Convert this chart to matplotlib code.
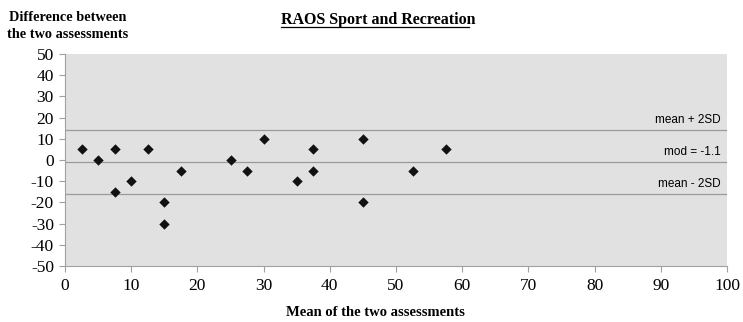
import matplotlib
matplotlib.use("Agg")
import matplotlib.pyplot as plt

plt.rcParams["axes.unicode_minus"] = False

x_mean = [2.5, 5, 7.5, 7.5, 10, 12.5, 15, 15, 17.5, 25, 27.5, 30, 35, 37.5, 37.5, 45, 45, 52.5, 57.5]
y_diff = [5, 0, 5, -15, -10, 5, -20, -30, -5, 0, -5, 10, -10, 5, -5, 10, -20, -5, 5]
mod_value = -1.1
upper_limit = 14.0
lower_limit = -16.2
line_labels = ["mean + 2SD", "mod = -1.1", "mean - 2SD"]
x_ticks = list(range(0, 101, 10))
y_ticks = list(range(-50, 51, 10))

serif = ["Liberation Serif", "DejaVu Serif"]
sans = ["Liberation Sans", "DejaVu Sans"]

fig = plt.figure(figsize=(7.43, 3.22), dpi=100)
ax = fig.add_axes([65/743, 1-266/322, (727-65)/743, (266-54)/322])
ax.set_facecolor("#e1e1e1")
ax.set_xlim(0, 100)
ax.set_ylim(-50, 50)
ax.set_xticks(x_ticks)
ax.set_yticks(y_ticks)
for s in ["top", "right"]:
    ax.spines[s].set_visible(False)
for s in ["left", "bottom"]:
    ax.spines[s].set_color("#a0a0a0")
    ax.spines[s].set_linewidth(0.8)
ax.tick_params(colors="#a0a0a0", length=4, width=0.8, labelcolor="black")
for lab in ax.get_xticklabels() + ax.get_yticklabels():
    lab.set_fontfamily(serif)
    lab.set_fontsize(12.5)
ax.tick_params(axis="x", pad=5)
ax.tick_params(axis="y", pad=4)

for yv in [upper_limit, mod_value, lower_limit]:
    ax.axhline(yv, color="#9a9a9a", linewidth=0.9, zorder=1)

for yv, txt in zip([upper_limit, mod_value, lower_limit], line_labels):
    ax.annotate(txt, xy=(99, yv), xytext=(0, 3), textcoords="offset points",
                ha="right", va="bottom", fontsize=8.5, family=sans, color="black")

ax.scatter(x_mean, y_diff, marker="D", s=28, color="#111111", zorder=3, linewidths=0)

t = fig.text(378/743, 1-20/322, "RAOS Sport and Recreation", ha="center", va="center",
             fontsize=11.5, fontweight="bold", family=serif)
fig.canvas.draw()
bb = t.get_window_extent()
fig.add_artist(plt.Line2D([bb.x0/743, (bb.x1-6)/743], [(bb.y0+1)/322]*2,
                          transform=fig.transFigure, color="black", linewidth=0.9))

fig.text(68/743, 1-26/322, "Difference between\nthe two assessments", ha="center", va="center",
         fontsize=10.3, fontweight="bold", family=serif, linespacing=1.45)
fig.text(375/743, 1-312/322, "Mean of the two assessments", ha="center", va="center",
         fontsize=10.5, fontweight="bold", family=serif)

fig.savefig("out.png", dpi=100)
